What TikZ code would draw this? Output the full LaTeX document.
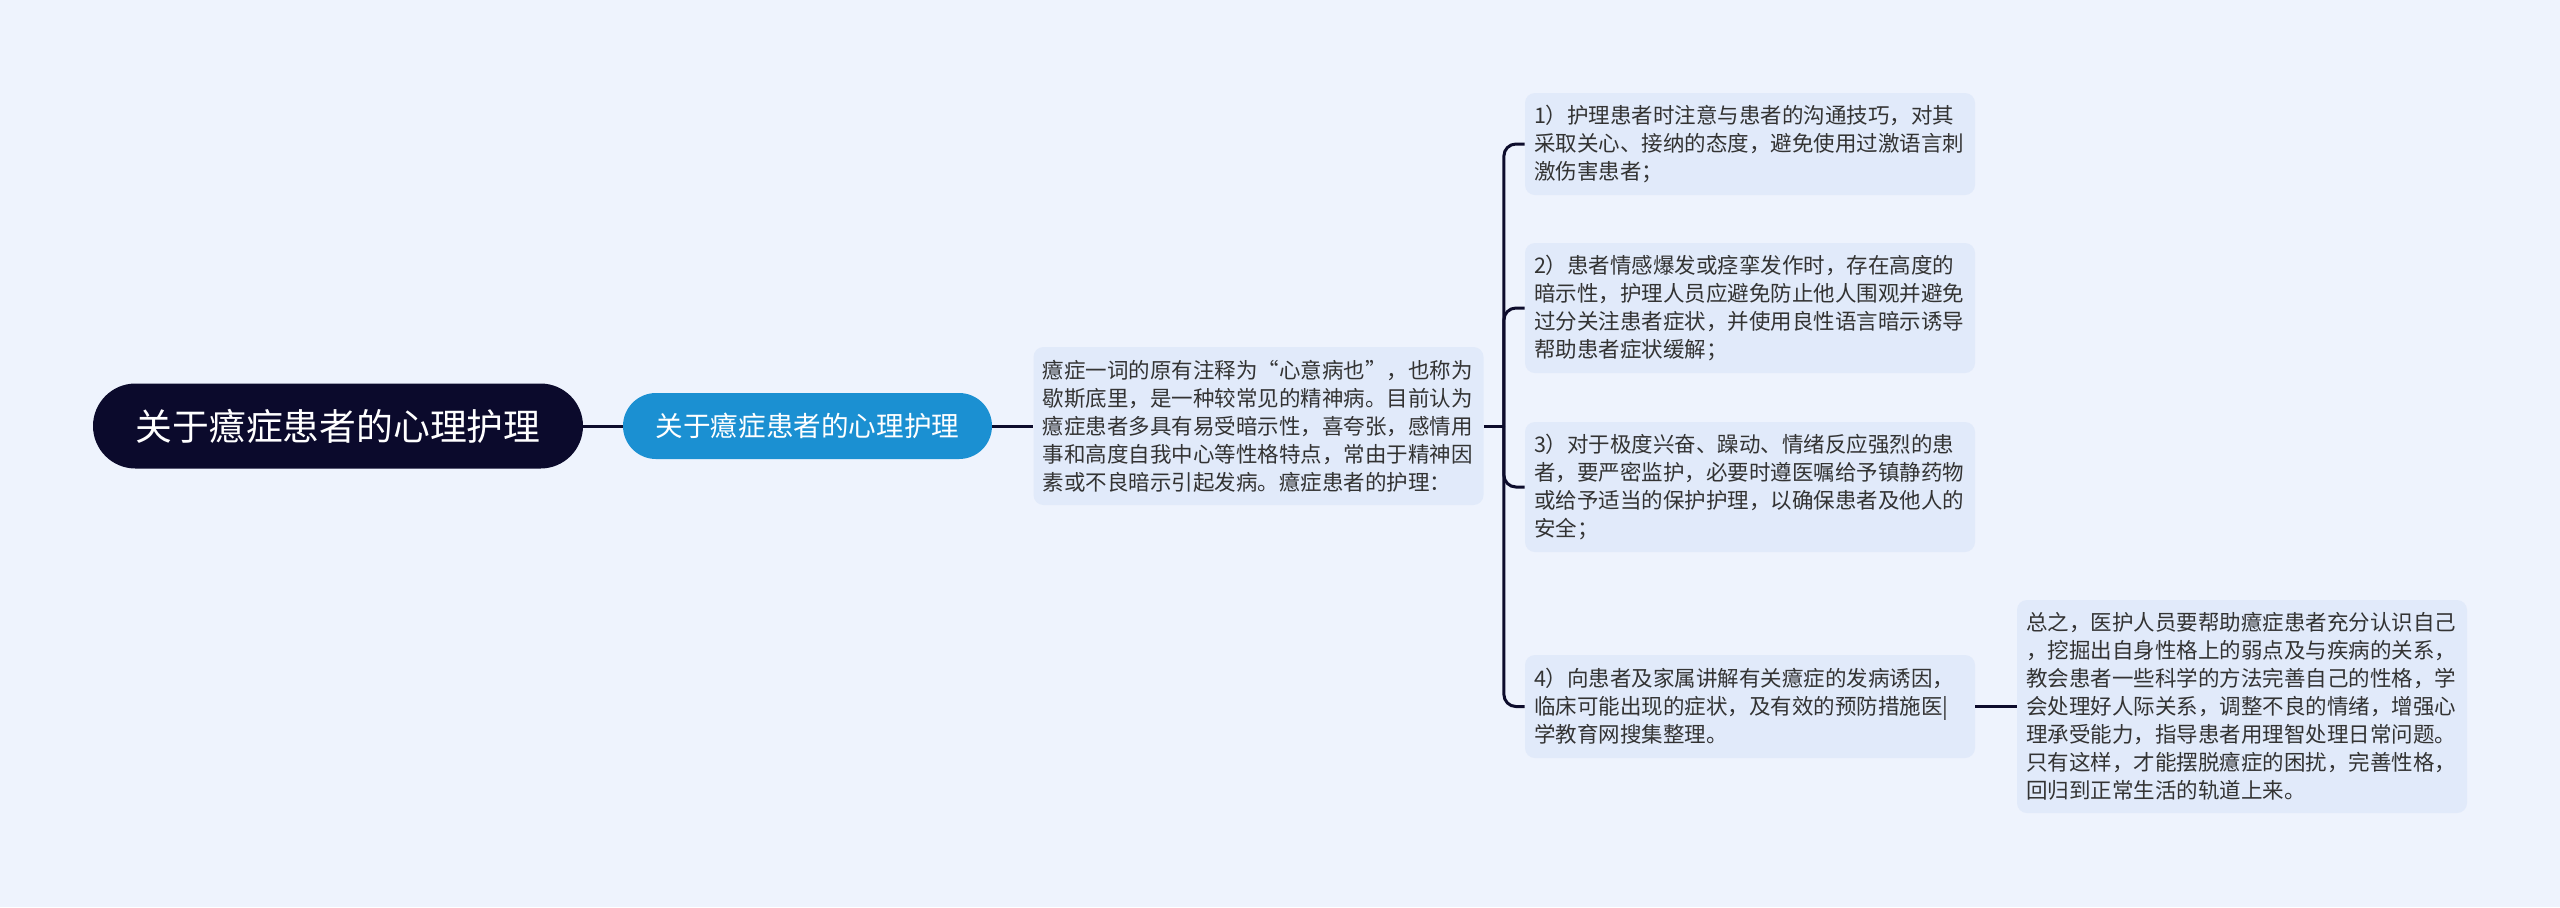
\documentclass[tikz,border=0pt]{standalone}
\usepackage{fontspec}
\setmainfont{Noto Sans CJK SC}
\definecolor{bg}{HTML}{EEF3FD}
\definecolor{rootc}{HTML}{0B0A2C}
\definecolor{secc}{HTML}{1B90D2}
\definecolor{leafc}{HTML}{E1EAFA}
\definecolor{linec}{HTML}{0D0C2C}
\definecolor{textc}{HTML}{333333}
\begin{document}
\begin{tikzpicture}[x=0.5pt,y=-0.5pt,
  rootbox/.style={fill=rootc, text=white, rounded corners=21.25pt, minimum width=245pt, minimum height=42.5pt, inner sep=0pt, font=\fontsize{18.4pt}{22pt}\selectfont},
  secbox/.style={fill=secc, text=white, rounded corners=16.5pt, minimum width=184.5pt, minimum height=33pt, inner sep=0pt, font=\fontsize{13.8pt}{16pt}\selectfont},
  leafbox/.style={fill=leafc, rounded corners=5pt, text width=216pt, inner xsep=4.5pt, inner ysep=0pt, align=left, text=textc, font=\fontsize{10.75pt}{14pt}\selectfont},
  conn/.style={draw=linec, line width=1.5pt}
]
\fill[bg] (0,0) rectangle (2560,907);
\useasboundingbox (0,0) rectangle (2560,907);

\node[rootbox] (root) at (338,426) {关于癔症患者的心理护理};
\node[secbox] (sec) at (807.5,426) {关于癔症患者的心理护理};
\node[leafbox, minimum height=79pt] (n3) at (1258.5,426) {癔症一词的原有注释为“心意病也”，也称为\\歇斯底里，是一种较常见的精神病。目前认为\\癔症患者多具有易受暗示性，喜夸张，感情用\\事和高度自我中心等性格特点，常由于精神因\\素或不良暗示引起发病。癔症患者的护理：};

\node[leafbox, minimum height=51pt] (l1) at (1750,144) {1）护理患者时注意与患者的沟通技巧，对其\\采取关心、接纳的态度，避免使用过激语言刺\\激伤害患者；};
\node[leafbox, minimum height=65pt] (l2) at (1750,308) {2）患者情感爆发或痉挛发作时，存在高度的\\暗示性，护理人员应避免防止他人围观并避免\\过分关注患者症状，并使用良性语言暗示诱导\\帮助患者症状缓解；};
\node[leafbox, minimum height=65pt] (l3) at (1750,487) {3）对于极度兴奋、躁动、情绪反应强烈的患\\者，要严密监护，必要时遵医嘱给予镇静药物\\或给予适当的保护护理，以确保患者及他人的\\安全；};
\node[leafbox, minimum height=51.5pt] (l4) at (1750,706.5) {4）向患者及家属讲解有关癔症的发病诱因，\\临床可能出现的症状，及有效的预防措施医|\\学教育网搜集整理。};
\node[leafbox, minimum height=106.5pt] (l5) at (2242,706.5) {总之，医护人员要帮助癔症患者充分认识自己\\，挖掘出自身性格上的弱点及与疾病的关系，\\教会患者一些科学的方法完善自己的性格，学\\会处理好人际关系，调整不良的情绪，增强心\\理承受能力，指导患者用理智处理日常问题。\\只有这样，才能摆脱癔症的困扰，完善性格，\\回归到正常生活的轨道上来。};

\draw[conn] (root) -- (sec);
\draw[conn] (sec) -- (n3);
\coordinate (j) at ([xshift=10pt]n3.east);
\draw[conn] (n3.east) -- (j);
\draw[conn, rounded corners=6pt] (j) |- (l1.west);
\draw[conn, rounded corners=6pt] (j) |- (l2.west);
\draw[conn, rounded corners=6pt] (j) |- (l3.west);
\draw[conn, rounded corners=6pt] (j) |- (l4.west);
\draw[conn] (l4) -- (l5);
\end{tikzpicture}
\end{document}
